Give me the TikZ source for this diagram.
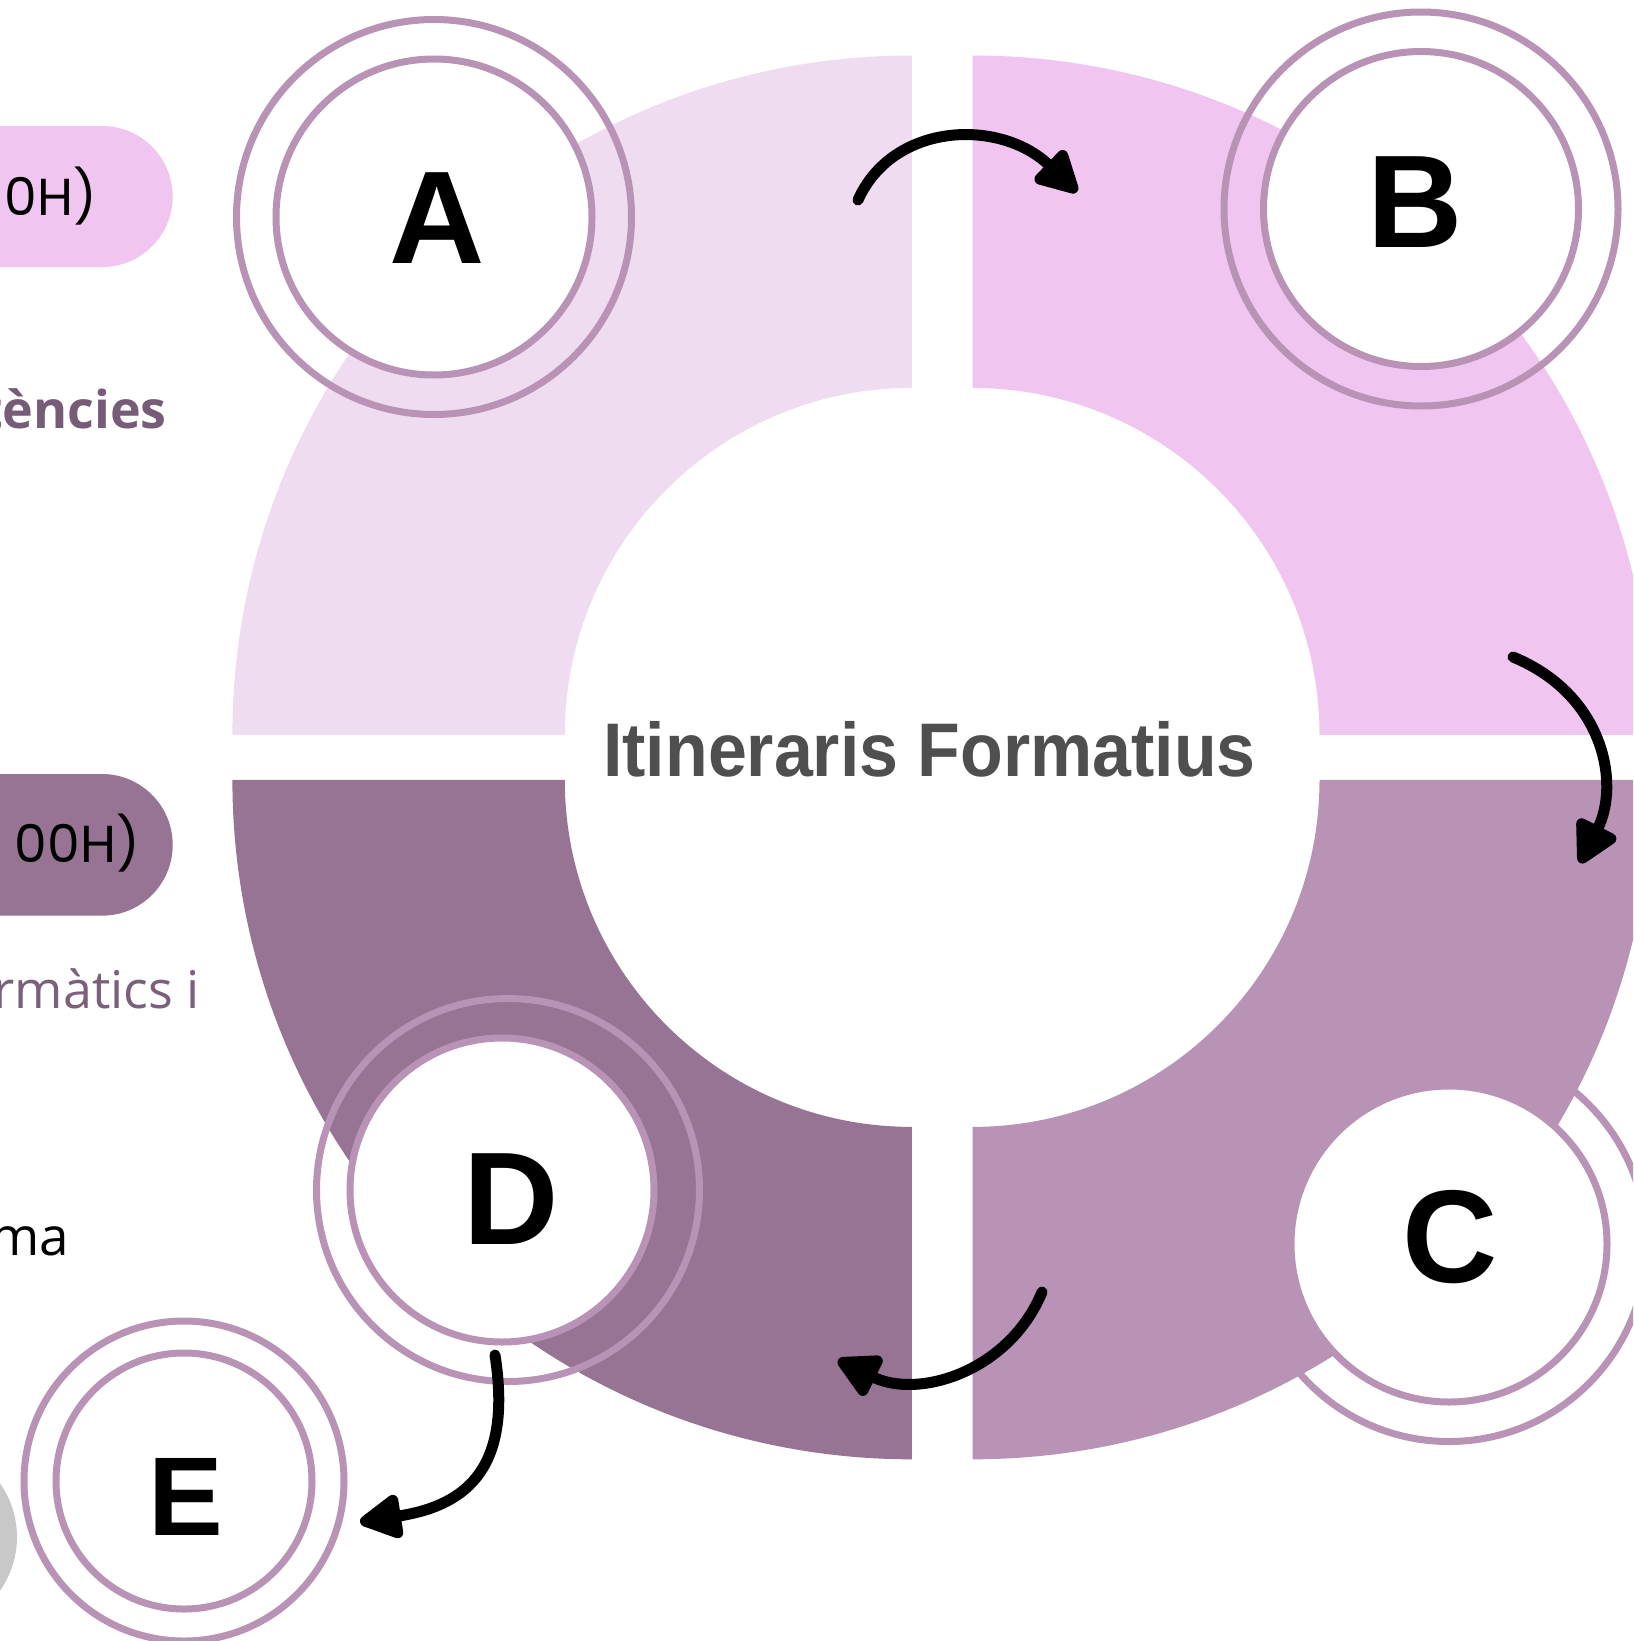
\documentclass[tikz,border=0pt]{standalone}
\usepackage{fontspec}
\usepackage{graphicx}
\usetikzlibrary{arrows.meta}
\newfontfamily\titlefont{Liberation Sans}
\newfontfamily\pillfont{Poppins}
\newfontfamily\bodyfont{Open Sans}
\definecolor{qtl}{HTML}{F0DCF0}
\definecolor{qtr}{HTML}{F0C6F0}
\definecolor{qbr}{HTML}{B993B5}
\definecolor{qbl}{HTML}{977493}
\definecolor{ringc}{HTML}{B893B6}
\definecolor{titlegray}{HTML}{4F4F4F}
\definecolor{txtpurple}{HTML}{765C76}
\definecolor{txtpurple2}{HTML}{7B5F7B}
\definecolor{greyc}{HTML}{C8C8C8}
\begin{document}
\begin{tikzpicture}[x=1pt,y=-1pt,
  ring/.style={draw=ringc, line width=7pt, circle, inner sep=0pt, outer sep=0pt},
  letter/.style={font=\titlefont\bfseries\fontsize{132}{132}\selectfont, text=black, inner sep=0pt},
  arr/.style={draw=black, line width=11pt, line cap=round, -{Triangle[length=48pt,width=48pt,round]}},
  sidetxt/.style={anchor=base east, inner sep=0pt}]
\useasboundingbox (0,0) rectangle (1633,1641);
\clip (0,0) rectangle (1633,1641);
\fill[white] (0,0) rectangle (1633,1641);
% C outer ring (under the ring segment)
\node[ring, minimum size=395pt] (Cout) at (1449,1244) {};
% quadrants
\fill[qtl] (232.4,734.9) arc[start angle=180, end angle=270, radius=679.4] -- (911.8,387.9) arc[start angle=270, end angle=180, radius=347] -- cycle;
\fill[qtr] (972.5,55.5) arc[start angle=270, end angle=360, radius=679.4] -- (1319.5,734.9) arc[start angle=360, end angle=270, radius=347] -- cycle;
\fill[qbr] (1651.9,779.9) arc[start angle=0, end angle=90, radius=679.4] -- (972.5,1126.9) arc[start angle=90, end angle=0, radius=347] -- cycle;
\fill[qbl] (911.8,1459.3) arc[start angle=90, end angle=180, radius=679.4] -- (564.8,779.9) arc[start angle=180, end angle=90, radius=347] -- cycle;
% outer rings
\node[ring, minimum size=395pt] (Aout) at (434,217) {};
\node[ring, minimum size=394pt] (Bout) at (1421,209) {};
\node[ring, minimum size=383pt] (Dout) at (508,1190) {};
\node[ring, minimum size=320pt] (Eout) at (184,1481) {};
% inner circles
\node[ring, fill=white, minimum size=316pt] (Ain) at (434,217) {};
\node[ring, fill=white, minimum size=315pt] (Bin) at (1421,209) {};
\node[ring, fill=white, minimum size=316pt] (Cin) at (1449,1244) {};
\node[ring, fill=white, minimum size=304pt] (Din) at (502,1190) {};
\node[ring, fill=white, minimum size=256pt] (Ein) at (184,1481) {};
% letters
\node[letter] (La) at (437,218) {A};
\node[letter] (Lb) at (1415,202) {B};
\node[letter] (Lc) at (1450,1237) {C};
\node[letter] (Ld) at (511,1199) {D};
\node[letter, font=\titlefont\bfseries\fontsize{112}{112}\selectfont] (Le) at (186,1497) {E};
% title
\node[anchor=base, inner sep=0pt, text=titlegray, font=\titlefont\bfseries\fontsize{76}{76}\selectfont] (title) at (929.5,776.7) {\scalebox{0.92}[1]{Itineraris Formatius}};
% arrows
\coordinate (a1s) at (858,200);
\coordinate (a1e) at (1077,192);
\coordinate (a2s) at (1513,657);
\coordinate (a2e) at (1580,863);
\coordinate (a3s) at (1042,1292);
\coordinate (a3e) at (838,1360);
\coordinate (a4s) at (495,1355);
\coordinate (a4e) at (360,1522);
\draw[arr] (a1s) .. controls (893,122) and (1000,118) .. (a1e);
\draw[arr] (a2s) .. controls (1605,695) and (1620,785) .. (a2e);
\draw[arr] (a3s) .. controls (1010,1370) and (920,1400) .. (a3e);
\draw[arr] (a4s) .. controls (512,1465) and (470,1505) .. (a4e);
% left side
\fill[qtr, rounded corners=70.5pt] (-300,126) rectangle (172.7,267);
\fill[qbl, rounded corners=70.8pt] (-300,774) rectangle (172.7,915.7);
\node[sidetxt, font=\pillfont\fontsize{52}{52}\selectfont] (p1) at (97,215) {0H)};
\node[sidetxt, font=\pillfont\fontsize{52}{52}\selectfont] (p2) at (140,862) {00H)};
\node[sidetxt, text=txtpurple, font=\bodyfont\bfseries\fontsize{52}{52}\selectfont] (t1) at (167,428) {tències};
\node[sidetxt, text=txtpurple2, font=\bodyfont\fontsize{52}{52}\selectfont] (t2) at (200,1008) {rmàtics i};
\node[sidetxt, text=black, font=\bodyfont\fontsize{53}{53}\selectfont] (t3) at (69,1255) {ma};
\fill[greyc] (-76,1537) circle[radius=93];
\end{tikzpicture}
\end{document}
